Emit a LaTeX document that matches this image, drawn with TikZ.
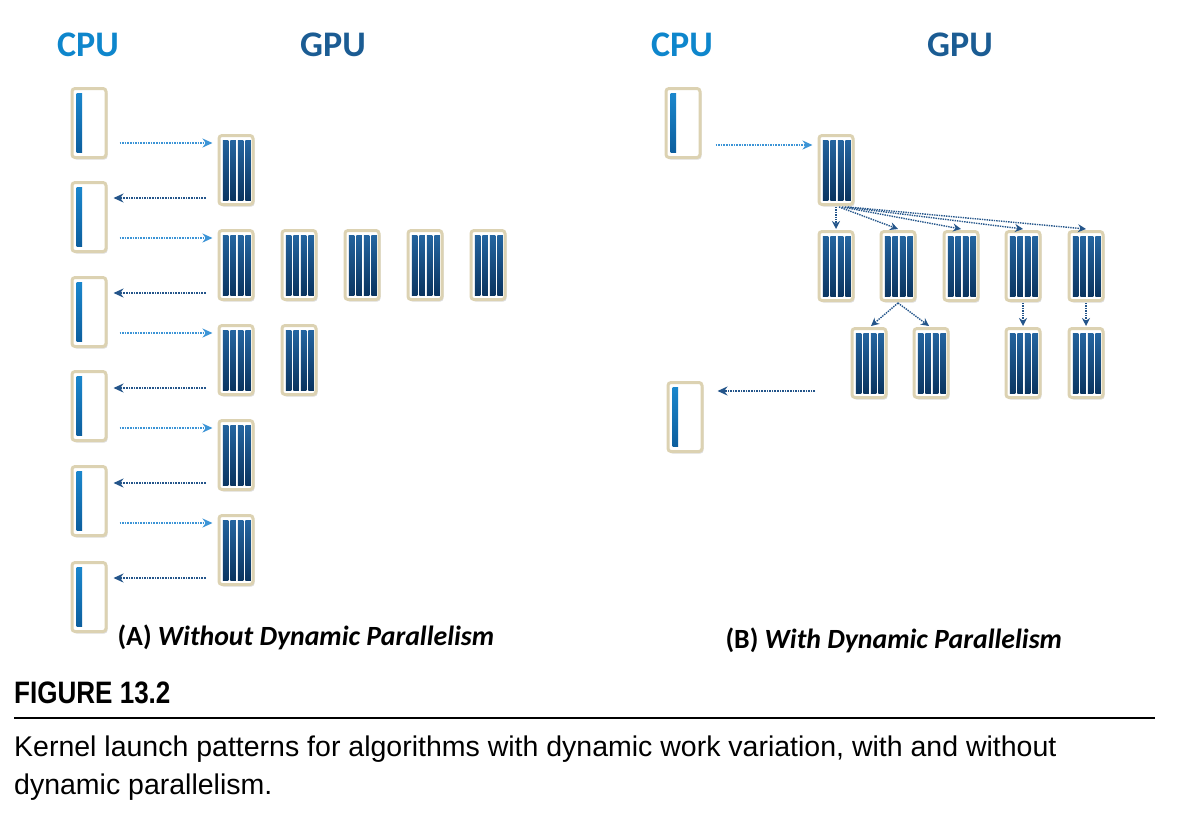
\documentclass[tikz,border=0pt]{standalone}
\usepackage{fontspec}
\usepackage{tikz}
\usetikzlibrary{arrows.meta,positioning,calc,shadows}
\newfontfamily\labfont{Carlito}
\newfontfamily\capfont{Liberation Sans}
\newfontfamily\fignofont[FakeStretch=0.84]{Liberation Sans}
\definecolor{cpuBlue}{HTML}{0E86CC}
\definecolor{gpuBlue}{HTML}{1B5C93}
\definecolor{boxEdge}{HTML}{DCD2B2}
\definecolor{barTop}{HTML}{2465A0}
\definecolor{barBot}{HTML}{0A345F}
\definecolor{cbarTop}{HTML}{1C8AD0}
\definecolor{cbarBot}{HTML}{0B5B9A}
\definecolor{sendBlue}{HTML}{3C94D6}
\definecolor{backBlue}{HTML}{24558A}

\begin{document}
\begin{tikzpicture}[x=1pt,y=-1pt,
  boxbase/.style={draw=boxEdge, line width=3pt, rounded corners=3pt, fill=white,
    minimum width=34pt, minimum height=69pt, inner sep=0pt,
    drop shadow={opacity=0.25, shadow xshift=1.5pt, shadow yshift=-2pt}},
  cpubox/.style={boxbase, path picture={
    \shade[sharp corners, top color=cbarTop, bottom color=cbarBot]
      ([shift={(4.5pt,5pt)}]path picture bounding box.south west)
      rectangle ([shift={(10pt,-4.5pt)}]path picture bounding box.north west);}},
  gpubox/.style={boxbase, path picture={
    \foreach \k in {0,...,3}
      \shade[sharp corners, top color=barTop, bottom color=barBot]
        ([shift={(3.8pt+\k*7.5pt,4.5pt)}]path picture bounding box.south west)
        rectangle ++(5.5pt,60pt);}},
  send/.style={sendBlue, densely dotted, line width=1.6pt, -{Stealth[length=10pt,width=9pt]}},
  back/.style={backBlue, densely dotted, line width=1.6pt, -{Stealth[length=10pt,width=9pt]}},
  spawn/.style={backBlue, densely dotted, line width=1.4pt, -{Stealth[length=8pt,width=8pt]}},
  head/.style={font=\labfont\bfseries\fontsize{36}{40}\selectfont},
  lab/.style={font=\labfont\bfseries\fontsize{27.8}{30}\selectfont, anchor=west}]
\useasboundingbox (0,0) rectangle (1178,830);

% (A) host launches every kernel
\foreach \i/\y in {1/123,2/217,3/312,4/406,5/501,6/597}
  \node[cpubox] (cA\i) at (89,\y) {};
\node[gpubox] (gA1) at (236,170) {};
\node[gpubox] (gA2) at (236,265) {};
\foreach \n/\x in {b/299,c/362,d/425,e/488}
  \node[gpubox] (gA2\n) at (\x,265) {};
\node[gpubox] (gA3) at (236,360) {};
\node[gpubox] (gA3b) at (299,360) {};
\node[gpubox] (gA4) at (236,455) {};
\node[gpubox] (gA5) at (236,550) {};
\foreach \i in {1,...,5} {
  \pgfmathtruncatemacro\j{\i+1}
  \draw[send] ($(cA\i.east |- gA\i.north)+(12,9)$) -- ($(gA\i.north west)+(-5,9)$);
  \draw[back] ($(gA\i.south west)+(-12,-8)$) -- ($(cA\j.east |- gA\i.south)+(6,-8)$);
}

% (B) kernels launch kernels
\node[cpubox] (cB1) at (683,123) {};
\node[cpubox] (cB2) at (685,417) {};
\node[gpubox] (pB) at (836,170) {};
\foreach \k/\x in {1/836,2/898,3/961,4/1023,5/1086}
  \node[gpubox] (rB\k) at (\x,266) {};
\foreach \k/\x in {1/869,2/931,3/1023,4/1086}
  \node[gpubox] (bB\k) at (\x,363) {};
\draw[send] ($(cB1.east |- pB.north)+(14,11)$) -- ($(pB.north west)+(-5,11)$);
\foreach \k/\dx in {1/0,2/3,3/6,4/9,5/12}
  \draw[spawn] ($(pB.south)+(\dx,1)$) -- ($(rB\k.north)+(0,-1)$);
\draw[spawn] ($(rB2.south)+(0,1)$) -- ($(bB1.north)+(2,-1)$);
\draw[spawn] ($(rB2.south)+(0,1)$) -- ($(bB2.north)+(-2,-1)$);
\draw[spawn] ($(rB4.south)+(0,1)$) -- ($(bB3.north)+(0,-1)$);
\draw[spawn] ($(rB5.south)+(0,1)$) -- ($(bB4.north)+(0,-1)$);
\coordinate (retB) at (815,391);
\draw[back] (retB) -- ($(cB2.east |- retB)+(14,0)$);

% headings and panel labels
\node[head, text=cpuBlue] (hCpuA) at (88,45) {CPU};
\node[head, text=gpuBlue] (hGpuA) at (333,45) {GPU};
\node[head, text=cpuBlue] (hCpuB) at (682,45) {CPU};
\node[head, text=gpuBlue] (hGpuB) at (960,45) {GPU};
\node[lab] (labA) at (114,637) {(A) \textit{Without Dynamic Parallelism}};
\node[lab] (labB) at (722,640) {(B) \textit{With Dynamic Parallelism}};

% caption
\node[anchor=west, inner sep=0pt, font=\fignofont\bfseries\fontsize{31}{34}\selectfont] (figNo) at (14,693) {FIGURE 13.2};
\draw[line width=1.2pt] (14,718) -- (1155,718);
\node[anchor=north west, inner sep=0pt, align=left, font=\capfont\fontsize{28.5}{37.5}\selectfont] (capTxt) at (14,736)
  {Kernel launch patterns for algorithms with dynamic work variation, with and without\\dynamic parallelism.};
\end{tikzpicture}
\end{document}
